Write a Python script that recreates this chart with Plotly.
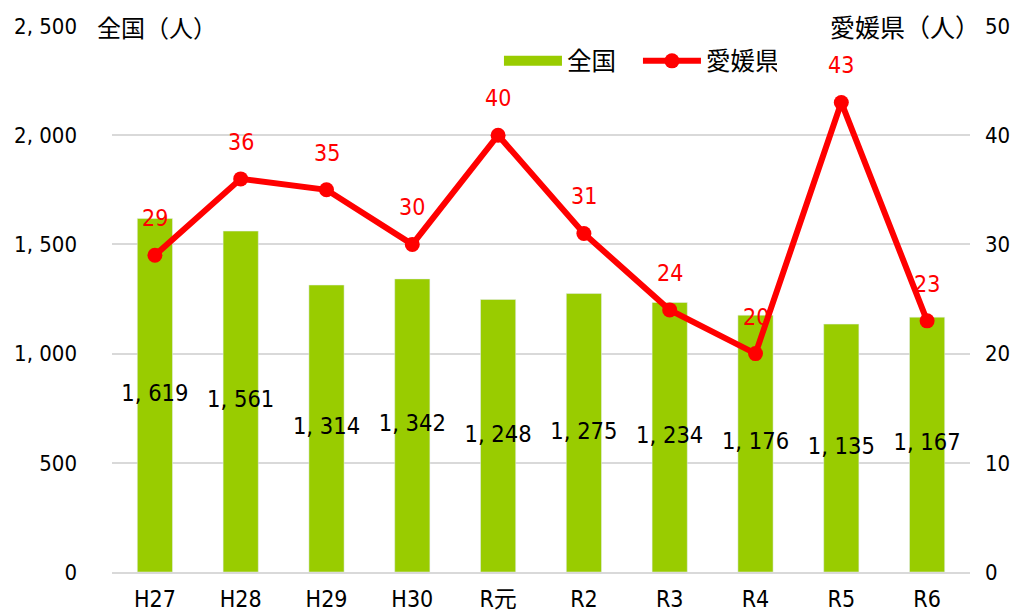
import plotly.graph_objects as go

categories = ["H27", "H28", "H29", "H30", "R元", "R2", "R3", "R4", "R5", "R6"]
national = [1619, 1561, 1314, 1342, 1248, 1275, 1234, 1176, 1135, 1167]
ehime = [29, 36, 35, 30, 40, 31, 24, 20, 43, 23]
left_ticks = [0, 500, 1000, 1500, 2000, 2500]
right_ticks = [0, 10, 20, 30, 40, 50]

FONT = "DejaVu Sans Condensed, Noto Sans CJK JP, sans-serif"
JFONT = "Noto Sans CJK JP, sans-serif"
GREEN = "#99CC00"
RED = "#FF0000"

def fmt(v):
    return f"{v:,}".replace(",", ", ")

fig = go.Figure()

fig.add_trace(go.Bar(
    x=categories, y=national, name="全国", marker_color=GREEN,
    width=0.41, showlegend=False,
))
# value labels centred in each bar
fig.add_trace(go.Scatter(
    x=categories, y=[v / 2 for v in national], mode="text",
    text=[fmt(v) for v in national], showlegend=False, hoverinfo="skip",
    textfont=dict(family=FONT, size=23.5, color="black"), cliponaxis=False,
))
# legend swatch for national (line-style key)
fig.add_trace(go.Scatter(
    x=[None], y=[None], mode="lines", name="全国",
    line=dict(color=GREEN, width=12),
))
fig.add_trace(go.Scatter(
    x=categories, y=ehime, name="愛媛県", yaxis="y2",
    mode="lines+markers", line=dict(color=RED, width=6),
    marker=dict(color=RED, size=15), cliponaxis=False,
))

for c, v in zip(categories, ehime):
    fig.add_annotation(x=c, y=v, yref="y2", text=str(v), showarrow=False,
                       yshift=37, font=dict(family=FONT, size=23, color=RED))

fig.add_annotation(x=-0.02, xref="paper", xanchor="left", y=1, yref="paper",
                   yanchor="middle", text="全国（人）", showarrow=False,
                   font=dict(family=JFONT, size=24, color="black"))
fig.add_annotation(x=1.0, xref="paper", xanchor="right", y=1, yref="paper",
                   yanchor="middle", text="愛媛県（人）", showarrow=False,
                   xshift=12, font=dict(family=JFONT, size=25, color="black"))

fig.update_layout(
    width=1020, height=612,
    margin=dict(l=112, r=50, t=26, b=40, autoexpand=False),
    plot_bgcolor="white", paper_bgcolor="white",
    font=dict(family=FONT, size=22, color="black"),
    xaxis=dict(range=[-0.5, len(categories) - 0.5],
               showline=True, linecolor="#d9d9d9", linewidth=2,
               tickfont=dict(size=23), ticks="", fixedrange=True,
               ticklabelstandoff=5, automargin=False),
    yaxis=dict(range=[0, 2500], tickvals=left_ticks,
               ticktext=[fmt(v) for v in left_ticks],
               showgrid=True, gridcolor="#d9d9d9", gridwidth=2,
               zeroline=False, ticklabelstandoff=34, automargin=False,
               tickfont=dict(size=22)),
    yaxis2=dict(range=[0, 50], tickvals=right_ticks, overlaying="y",
                side="right", showgrid=False, zeroline=False,
                ticklabelstandoff=14, automargin=False,
                tickfont=dict(size=22)),
    legend=dict(orientation="h", x=0.451, xanchor="left", y=0.936,
                yanchor="middle", font=dict(family=JFONT, size=24.5),
                itemwidth=58, entrywidth=66, entrywidthmode="pixels",
                bgcolor="rgba(0,0,0,0)", traceorder="normal"),
    showlegend=True,
)

fig.write_html("out.html", config={"displayModeBar": False},
               post_script="document.body.style.margin='0';document.body.style.overflow='hidden';")
